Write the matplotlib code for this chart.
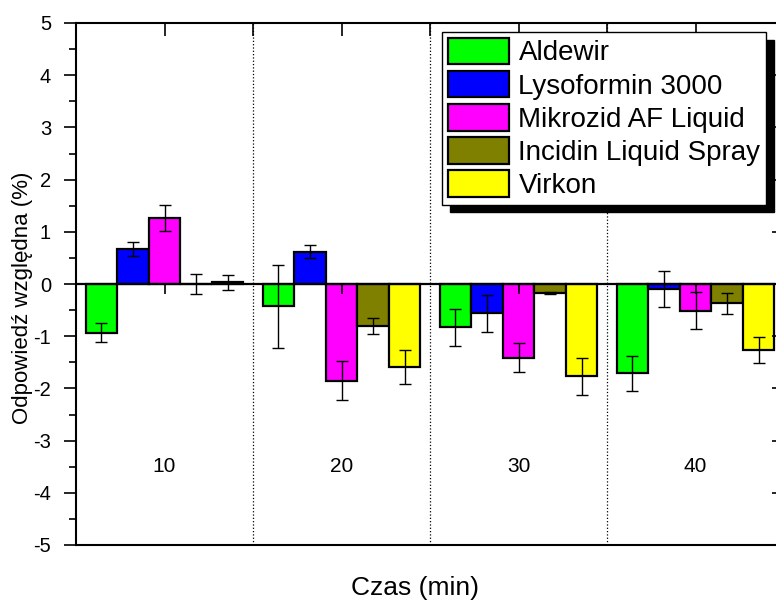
import numpy as np
import matplotlib
matplotlib.use("Agg")
import matplotlib.pyplot as plt

plt.rcParams['font.family'] = ['Liberation Sans', 'DejaVu Sans']
plt.rcParams['axes.unicode_minus'] = False

# data
times = [10, 20, 30, 40]
names = ['Aldewir', 'Lysoformin 3000', 'Mikrozid AF Liquid',
         'Incidin Liquid Spray', 'Virkon']
colors = ['#00ff00', '#0000ff', '#ff00ff', '#808000', '#ffff00']

aldewir = [-0.93, -0.43, -0.83, -1.71]
aldewir_err = [0.18, 0.80, 0.35, 0.34]
lysoformin = [0.67, 0.62, -0.56, -0.10]
lysoformin_err = [0.13, 0.12, 0.35, 0.35]
mikrozid = [1.27, -1.85, -1.41, -0.51]
mikrozid_err = [0.25, 0.37, 0.28, 0.35]
incidin = [0.0, -0.80, -0.17, -0.37]
incidin_err = [0.20, 0.15, 0.02, 0.20]
virkon = [0.03, -1.59, -1.77, -1.27]
virkon_err = [0.15, 0.32, 0.35, 0.25]

values = [aldewir, lysoformin, mikrozid, incidin, virkon]
errors = [aldewir_err, lysoformin_err, mikrozid_err, incidin_err, virkon_err]

fig = plt.figure(figsize=(7.76, 6.06), dpi=100)
ax = fig.add_axes([76 / 776, 1 - 545 / 606, 708 / 776, 522 / 606])

w = 1.78
x = np.array(times, dtype=float)
for i in range(5):
    pos = x + (i - 2) * w
    ax.bar(pos, values[i], width=w, color=colors[i], edgecolor='black',
           linewidth=1.6, label=names[i], zorder=2)
    ax.errorbar(pos, values[i], yerr=errors[i], fmt='none', ecolor='black',
                elinewidth=1.0, capsize=4, capthick=1.0, zorder=3)

# short stub below the zero line on the Mikrozid bars
ax.vlines(x, -0.19, 0, color='black', linewidth=1.2, zorder=3)

ax.axhline(0, color='black', linewidth=1.6, zorder=4)
for b in [15, 25, 35]:
    ax.axvline(b, color='black', linestyle=':', linewidth=0.9, zorder=1)

for t in times:
    ax.text(t, -3.5, str(t), ha='center', va='center', fontsize=15)

ax.set_xlim(5, 45)
ax.set_ylim(-5, 5)
ax.set_yticks(np.arange(-5, 6, 1))
ax.set_yticks(np.arange(-4.5, 5, 1), minor=True)
ax.tick_params(axis='y', which='major', direction='out', length=9, width=1.2,
               labelsize=14.5, pad=9)
ax.tick_params(axis='y', which='minor', direction='out', length=5, width=1.2)
ax.set_xticks([10, 15, 20, 25, 30, 35, 40])
ax.tick_params(axis='x', bottom=False, top=True, labelbottom=False,
               direction='in', length=9, width=1.2)

ax2 = ax.twinx()
ax2.set_ylim(-5, 5)
ax2.set_yticks(np.arange(-5, 6, 1))
ax2.tick_params(axis='y', direction='in', length=9, width=1.2, labelright=False)
for s in ax2.spines.values():
    s.set_visible(False)

for s in ax.spines.values():
    s.set_linewidth(1.5)

ax.set_ylabel('Odpowiedź względna (%)', fontsize=16, va='center')
ax.yaxis.set_label_coords(-0.076, 0.473)
ax.set_xlabel('Czas (min)', fontsize=19, va='center')
ax.xaxis.set_label_coords(0.479, -0.082)

leg = ax.legend(loc='upper right', bbox_to_anchor=(0.9746, 0.9828),
                borderaxespad=0, fontsize=20, handlelength=2.2,
                handleheight=1.1, labelspacing=0.16, handletextpad=0.35,
                borderpad=0.2, fancybox=False, framealpha=1,
                shadow={'ox': 5.5, 'oy': -5.5, 'facecolor': 'black',
                        'edgecolor': 'black', 'alpha': 1})
leg.get_frame().set_edgecolor('black')
leg.get_frame().set_linewidth(1.0)
leg.set_zorder(10)

fig.savefig('out.png', dpi=100)
